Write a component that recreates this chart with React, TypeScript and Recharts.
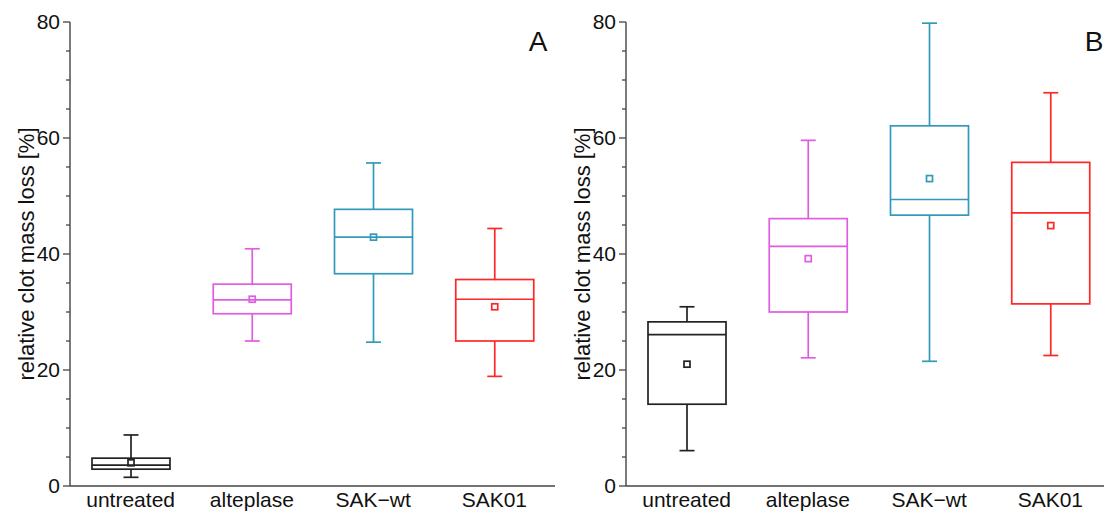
import React from "react";
import { Bar, ComposedChart, XAxis, YAxis } from "recharts";

const groups = ["untreated", "alteplase", "SAK\u2212wt", "SAK01"];
const colors = ["#222222", "#e05ce0", "#3399bb", "#ff2626"];

// panel A
const aMin = [1.5, 25.0, 24.8, 18.9];
const aQ1 = [2.9, 29.7, 36.6, 25.0];
const aMedian = [3.6, 32.1, 42.9, 32.2];
const aQ3 = [4.8, 34.8, 47.7, 35.6];
const aMax = [8.8, 40.9, 55.7, 44.4];
const aMean = [4.0, 32.2, 42.9, 30.9];

// panel B
const bMin = [6.1, 22.1, 21.5, 22.5];
const bQ1 = [14.1, 30.0, 46.7, 31.4];
const bMedian = [26.1, 41.3, 49.4, 47.1];
const bQ3 = [28.3, 46.1, 62.1, 55.8];
const bMax = [30.9, 59.6, 79.8, 67.8];
const bMean = [21.0, 39.2, 53.0, 44.9];

const yTicks = [0, 5, 10, 15, 20, 25, 30, 35, 40, 45, 50, 55, 60, 65, 70, 75, 80];
const yLabels = [0, 20, 40, 60, 80];

const FONT = "'Liberation Sans', Arial, sans-serif";
const AXIS = "#444444";

type Box = {
  name: string;
  min: number;
  q1: number;
  median: number;
  q3: number;
  max: number;
  mean: number;
  color: string;
};

function makeRows(mins: number[], q1s: number[], meds: number[], q3s: number[], maxs: number[], means: number[]): Box[] {
  return groups.map((name, i) => ({
    name,
    min: mins[i],
    q1: q1s[i],
    median: meds[i],
    q3: q3s[i],
    max: maxs[i],
    mean: means[i],
    color: colors[i],
  }));
}

const rowsA = makeRows(aMin, aQ1, aMedian, aQ3, aMax, aMean);
const rowsB = makeRows(bMin, bQ1, bMedian, bQ3, bMax, bMean);

// draws whiskers, box, median and mean from the range bar the library placed
function BoxShape(props: any) {
  const { x, y, width, height, payload } = props;
  const { min, max, q1, median, q3, mean, color } = payload as Box;
  const top = Math.min(y, y + height);
  const h = Math.abs(height);
  const py = (v: number) => top + (h * (max - v)) / (max - min);
  const cx = x + width / 2;
  const cap = 7.5;
  const m = 3;
  return (
    <g fill="none" stroke={color} strokeWidth={1.7}>
      <line x1={cx} x2={cx} y1={py(max)} y2={py(q3)} />
      <line x1={cx} x2={cx} y1={py(q1)} y2={py(min)} />
      <line x1={cx - cap} x2={cx + cap} y1={py(max)} y2={py(max)} />
      <line x1={cx - cap} x2={cx + cap} y1={py(min)} y2={py(min)} />
      <rect x={x} y={py(q3)} width={width} height={py(q1) - py(q3)} fill="#fff" />
      <line x1={x} x2={x + width} y1={py(median)} y2={py(median)} />
      <rect x={cx - m} y={py(mean) - m} width={2 * m} height={2 * m} />
    </g>
  );
}

function YTick(props: any) {
  const { x, y, payload } = props;
  const major = yLabels.includes(payload.value);
  return (
    <g>
      <line x1={x - (major ? 7 : 4)} x2={x} y1={y} y2={y} stroke={AXIS} strokeWidth={1.3} />
      {major && (
        <text x={x - 10} y={y} dy="0.355em" textAnchor="end" fontSize={21} fill="#111" fontFamily={FONT}>
          {payload.value}
        </text>
      )}
    </g>
  );
}

function Panel({ rows, letter }: { rows: Box[]; letter: string }) {
  return (
    <div style={{ position: "relative", width: 560, height: 512 }}>
      <ComposedChart width={560} height={512} data={rows} margin={{ top: 22, right: 5, bottom: 0, left: 0 }}>
        <XAxis
          dataKey="name"
          interval={0}
          tickLine={false}
          tickSize={0}
          tickMargin={6}
          height={26}
          axisLine={{ stroke: AXIS, strokeWidth: 1.4 }}
          tick={{ fontSize: 21, fill: "#111", fontFamily: FONT }}
        />
        <YAxis
          type="number"
          domain={[0, 80]}
          ticks={yTicks}
          interval={0}
          width={70}
          tickLine={false}
          tickSize={0}
          tickMargin={0}
          axisLine={{ stroke: AXIS, strokeWidth: 1.4 }}
          tick={<YTick />}
          label={{
            value: "relative clot mass loss [%]",
            angle: -90,
            position: "insideLeft",
            offset: 26,
            style: { textAnchor: "middle", fontSize: 22, fill: "#111", fontFamily: FONT },
          }}
        />
        <Bar dataKey={(d: Box) => [d.min, d.max]} barSize={78} shape={<BoxShape />} isAnimationActive={false} />
      </ComposedChart>
      <div
        style={{
          position: "absolute",
          top: 28,
          left: 468,
          width: 140,
          textAlign: "center",
          fontFamily: FONT,
          fontSize: 28,
          lineHeight: "28px",
          color: "#111",
        }}
      >
        {letter}
      </div>
    </div>
  );
}

export default function App() {
  return (
    <div style={{ position: "fixed", left: 0, top: 0, width: 1104, height: 512, overflow: "hidden", background: "#fff" }}>
      <div style={{ position: "absolute", left: 0, top: 0 }}>
        <Panel rows={rowsA} letter="A" />
      </div>
      <div style={{ position: "absolute", left: 556, top: 0 }}>
        <Panel rows={rowsB} letter="B" />
      </div>
    </div>
  );
}
